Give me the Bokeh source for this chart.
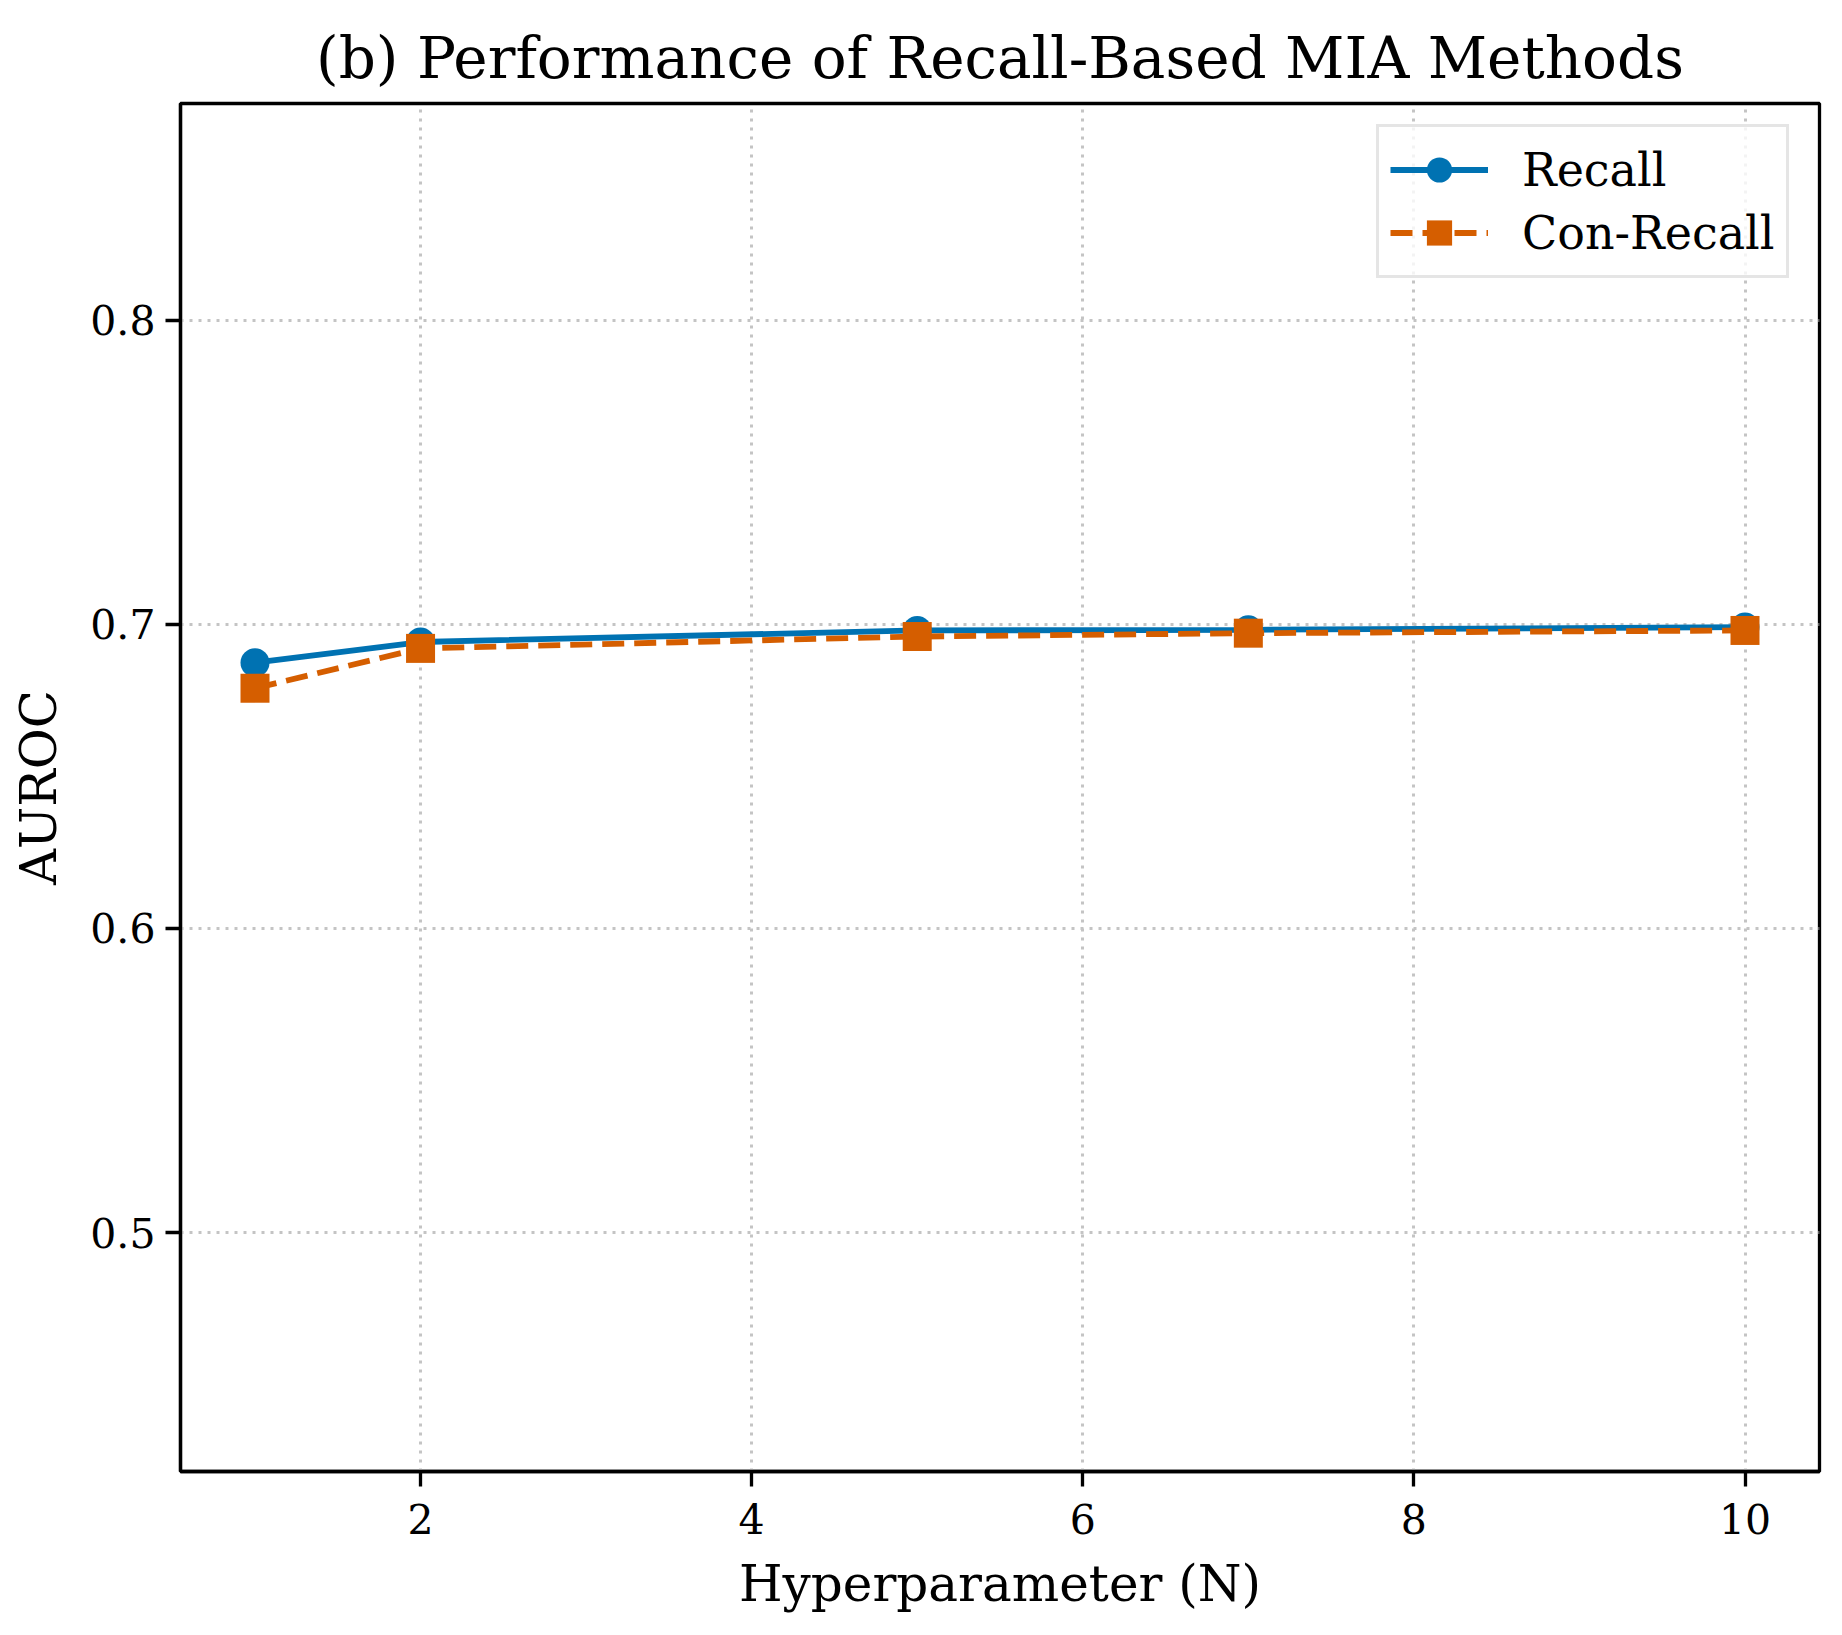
from bokeh.plotting import figure
from bokeh.models import Range1d, FixedTicker, Legend, LegendItem
from bokeh.embed import file_html
from bokeh.resources import INLINE

# ---- data ----
N = [1, 2, 5, 7, 10]
recall = [0.6874, 0.6942, 0.6980, 0.6982, 0.6991]
con_recall = [0.6790, 0.6921, 0.6960, 0.6971, 0.6980]
x_ticks = [2, 4, 6, 8, 10]
y_ticks = [0.5, 0.6, 0.7, 0.8]
series_names = ["Recall", "Con-Recall"]
title_text = "(b) Performance of Recall-Based MIA Methods"
x_label = "Hyperparameter (N)"
y_label = "AUROC"

BLUE = "#0072B2"
ORANGE = "#D55E00"
FONT = "DejaVu Serif"

p = figure(width=1826, height=1619, output_backend="svg", toolbar_location=None,
           x_range=Range1d(0.55, 10.45), y_range=Range1d(0.4214, 0.8713),
           min_border_left=180, min_border_right=7, min_border_top=103,
           min_border_bottom=148, title=title_text)

p.background_fill_color = "white"
p.border_fill_color = "white"
p.outline_line_color = "black"
p.outline_line_width = 3.3

p.title.text_font = FONT
p.title.text_font_size = "58px"
p.title.text_font_style = "normal"
p.title.text_color = "black"
p.title.align = "center"
p.title.standoff = 24

for ax in (p.xaxis[0], p.yaxis[0]):
    ax.axis_line_color = "black"
    ax.axis_line_width = 3.3
    ax.major_tick_line_color = "black"
    ax.major_tick_line_width = 3.3
    ax.major_tick_out = 15
    ax.major_tick_in = 0
    ax.minor_tick_line_color = None
    ax.major_label_text_font = FONT
    ax.major_label_text_font_size = "41px"
    ax.major_label_text_color = "black"
    ax.axis_label_text_font = FONT
    ax.axis_label_text_font_size = "50px"
    ax.axis_label_text_font_style = "normal"
    ax.axis_label_text_color = "black"

p.xaxis[0].ticker = FixedTicker(ticks=x_ticks)
p.yaxis[0].ticker = FixedTicker(ticks=y_ticks)
p.xaxis[0].axis_label = x_label
p.yaxis[0].axis_label = y_label
p.xaxis[0].major_label_standoff = 17
p.yaxis[0].major_label_standoff = 10
p.xaxis[0].axis_label_standoff = 18
p.yaxis[0].axis_label_standoff = 19

for g in (p.xgrid[0], p.ygrid[0]):
    g.grid_line_color = "#c4c4c4"
    g.grid_line_width = 3
    g.grid_line_dash = "3 6"

l1 = p.line(N, recall, line_color=BLUE, line_width=5.8)
s1 = p.scatter(N, recall, marker="circle", size=29, fill_color=BLUE, line_color=BLUE, line_width=0)
l2 = p.line(N, con_recall, line_color=ORANGE, line_width=5.8, line_dash="22 10")
s2 = p.scatter(N, con_recall, marker="square", size=29, fill_color=ORANGE, line_color=ORANGE, line_width=0)

legend = Legend(items=[LegendItem(label=series_names[0], renderers=[l1, s1]),
                       LegendItem(label=series_names[1], renderers=[l2, s2])],
                location=(1196, 1193), glyph_width=98, glyph_height=63,
                label_standoff=34, spacing=0, padding=11,
                label_text_font=FONT, label_text_font_size="46px",
                label_text_color="black",
                border_line_color="#cccccc", border_line_width=3,
                background_fill_color="white", background_fill_alpha=0.8)
p.add_layout(legend)

open("out.html", "w").write(file_html(p, INLINE))
